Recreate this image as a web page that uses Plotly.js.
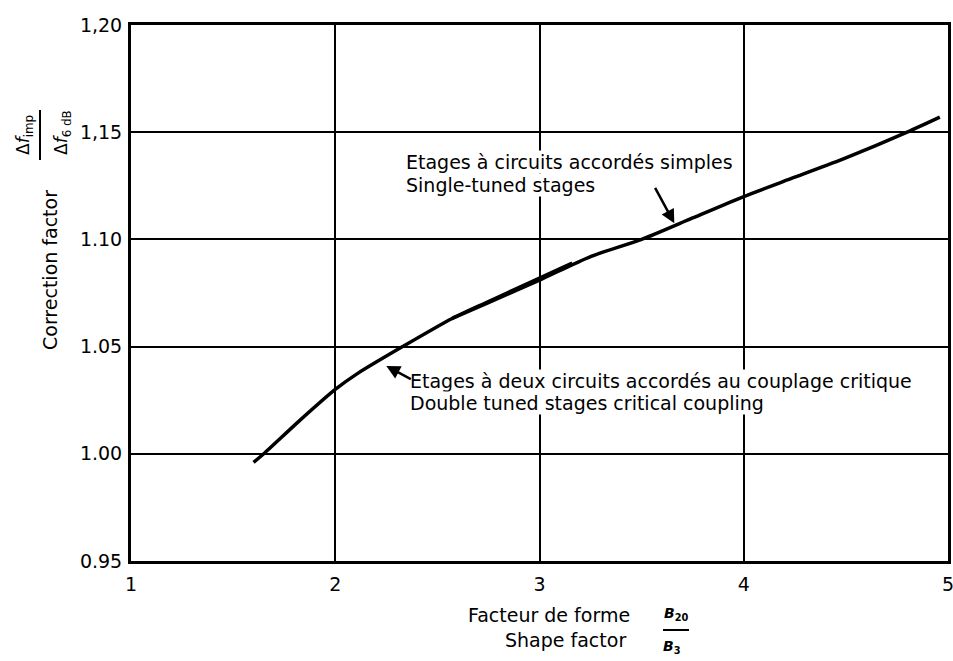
<!DOCTYPE html>
<html>
<head>
<meta charset="utf-8">
<script src="https://cdn.plot.ly/plotly-3.0.1.min.js"></script>
<style>
  html, body { margin: 0; padding: 0; background: #fff; }
  #chart { width: 953px; height: 661px; }
</style>
</head>
<body>
<div id="chart"></div>
<script>
// Shape factor B20/B3 (x) against correction factor Δf_imp / Δf_6dB (y)
const doubleTunedX = [1.60, 1.65, 1.82, 2.00, 2.11, 2.33, 2.57, 2.75, 3.00, 3.16];
const doubleTunedY = [0.996, 1.000, 1.015, 1.030, 1.0375, 1.050, 1.063, 1.071, 1.082, 1.089];

const singleTunedX = [2.57, 2.75, 3.00, 3.25, 3.50, 3.75, 4.00, 4.25, 4.50, 4.80, 4.96];
const singleTunedY = [1.063, 1.0705, 1.081, 1.092, 1.100, 1.110, 1.120, 1.129, 1.138, 1.150, 1.157];

const xTickVals = [1, 2, 3, 4, 5];
const xTickText = ['1', '2', '3', '4', '5'];
const yTickVals = [0.95, 1.00, 1.05, 1.10, 1.15, 1.20];
const yTickText = ['0.95', '1.00', '1.05', '1.10', '1,15', '1,20'];

const singleLabel = ['Etages à circuits accordés simples', 'Single-tuned stages'];
const doubleLabel = ['Etages à deux circuits accordés au couplage critique', 'Double tuned stages critical coupling'];
const xTitle = ['Facteur de forme', 'Shape factor'];
const yTitle = 'Correction factor';

// plot frame in pixels
const W = 953, H = 661;
const M = { l: 131, r: 5, t: 25, b: 100 };
const PW = W - M.l - M.r, PH = H - M.t - M.b;
const px = v => (v - M.l) / PW;          // pixel column -> paper x
const py = v => (H - M.b - v) / PH;      // pixel row -> paper y

const FONT = 'DejaVu Sans, Verdana, sans-serif';
const ink = '#000';

const curveLine = { color: ink, width: 3.5, shape: 'spline', smoothing: 0.7 };
const traces = [
  { x: doubleTunedX, y: doubleTunedY, mode: 'lines', line: curveLine, hoverinfo: 'skip' },
  { x: singleTunedX, y: singleTunedY, mode: 'lines', line: curveLine, hoverinfo: 'skip' }
];

const txt = (x, y, text, opts) => Object.assign({
  x, y, text, showarrow: false, xref: 'x', yref: 'y',
  xanchor: 'left', yanchor: 'middle', bgcolor: '#fff', borderpad: 0,
  font: { family: FONT, size: 19, color: ink }
}, opts || {});

const annotations = [
  // curve labels
  txt(2.34, 1.136, singleLabel[0]),
  txt(2.34, 1.1255, singleLabel[1]),
  txt(2.36, 1.034, doubleLabel[0]),
  txt(2.36, 1.0235, doubleLabel[1]),
  // pointer arrows
  { x: 3.66, y: 1.1075, xref: 'x', yref: 'y', text: '', showarrow: true,
    ax: -20, ay: -37, arrowhead: 2, arrowsize: 1.1, arrowwidth: 2.5, arrowcolor: ink, standoff: 0 },
  { x: 2.25, y: 1.041, xref: 'x', yref: 'y', text: '', showarrow: true,
    ax: 26, ay: 14, arrowhead: 2, arrowsize: 1.1, arrowwidth: 2.5, arrowcolor: ink, standoff: 0 },
  // y-axis title
  { x: px(50), y: py(270), xref: 'paper', yref: 'paper', text: yTitle, showarrow: false,
    textangle: -90, xanchor: 'center', yanchor: 'middle', font: { family: FONT, size: 19, color: ink } },
  { x: px(24), y: py(135), xref: 'paper', yref: 'paper', text: 'Δ<i>f</i><sub>imp</sub>', showarrow: false,
    textangle: -90, xanchor: 'center', yanchor: 'middle', font: { family: FONT, size: 17, color: ink } },
  { x: px(62), y: py(133), xref: 'paper', yref: 'paper', text: 'Δ<i>f</i><sub>6 dB</sub>', showarrow: false,
    textangle: -90, xanchor: 'center', yanchor: 'middle', font: { family: FONT, size: 17, color: ink } },
  // x-axis title
  { x: px(632), y: py(615), xref: 'paper', yref: 'paper', text: xTitle[0], showarrow: false,
    xanchor: 'right', yanchor: 'middle', font: { family: FONT, size: 19, color: ink } },
  { x: px(628), y: py(640), xref: 'paper', yref: 'paper', text: xTitle[1], showarrow: false,
    xanchor: 'right', yanchor: 'middle', font: { family: FONT, size: 19, color: ink } },
  { x: px(676), y: py(614), xref: 'paper', yref: 'paper', text: '<b><i>B</i></b><sub><b>20</b></sub>', showarrow: false,
    xanchor: 'center', yanchor: 'middle', font: { family: FONT, size: 14, color: ink } },
  { x: px(672), y: py(647), xref: 'paper', yref: 'paper', text: '<b><i>B</i></b><sub><b>3</b></sub>', showarrow: false,
    xanchor: 'center', yanchor: 'middle', font: { family: FONT, size: 14, color: ink } }
];

const shapes = [
  { type: 'line', xref: 'paper', yref: 'paper', x0: px(40), x1: px(40), y0: py(110), y1: py(160),
    line: { color: ink, width: 2 } },
  { type: 'line', xref: 'paper', yref: 'paper', x0: px(663), x1: px(689), y0: py(630), y1: py(630),
    line: { color: ink, width: 2 } }
];

const axisBase = {
  showgrid: true, gridcolor: ink, gridwidth: 2,
  showline: true, linecolor: ink, linewidth: 3, mirror: true,
  zeroline: false, ticks: '', tickmode: 'array', ticklabeloverflow: 'allow',
  tickfont: { family: FONT, size: 19, color: ink }
};

const layout = {
  width: W, height: H,
  margin: M,
  paper_bgcolor: '#fff', plot_bgcolor: '#fff',
  showlegend: false,
  xaxis: Object.assign({}, axisBase, { range: [1, 5], tickvals: xTickVals, ticktext: xTickText, ticklabelstandoff: 4 }),
  yaxis: Object.assign({}, axisBase, { range: [0.95, 1.20], tickvals: yTickVals, ticktext: yTickText, ticklabelstandoff: 2 }),
  annotations, shapes
};

Plotly.newPlot('chart', traces, layout, { staticPlot: true, displayModeBar: false });
</script>
</body>
</html>
